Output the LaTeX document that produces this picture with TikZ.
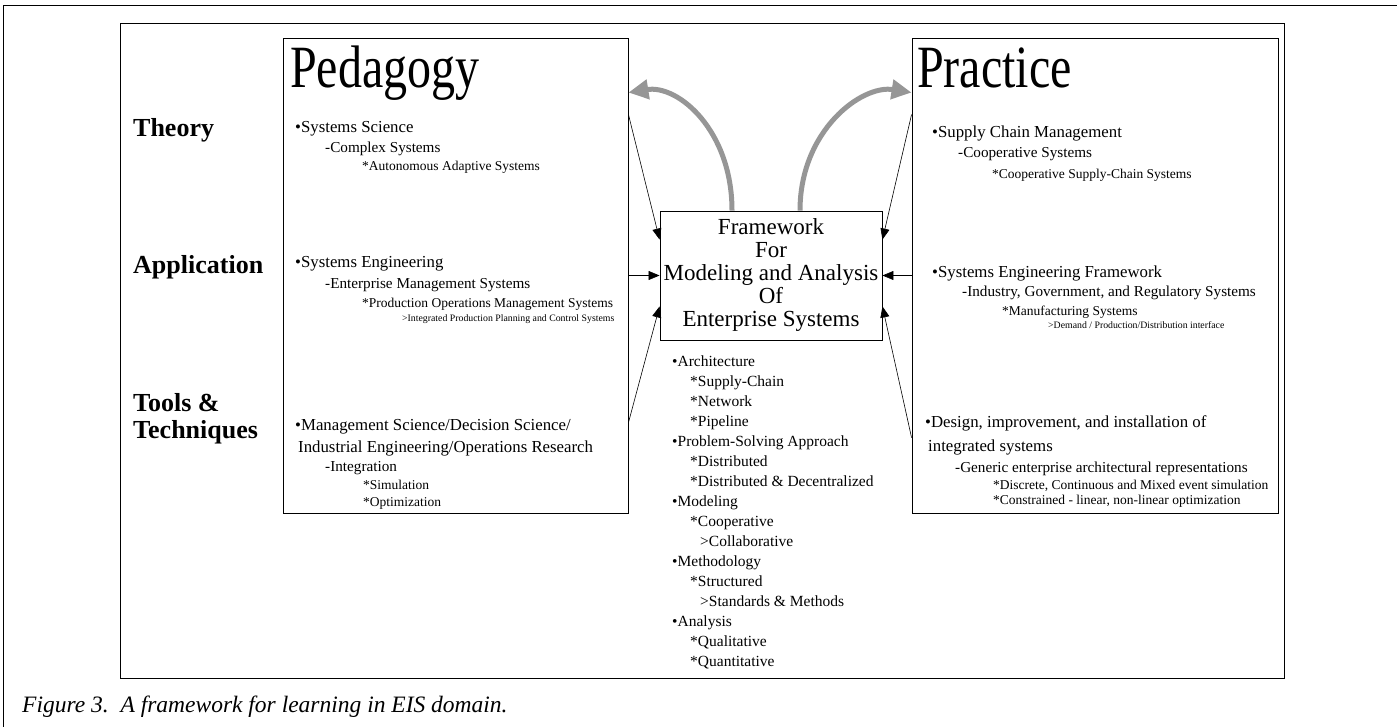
\documentclass[tikz,border=0pt]{standalone}
\usepackage{fontspec}
\setmainfont{Liberation Serif}
\usetikzlibrary{arrows.meta, positioning, calc}
\definecolor{arcGray}{RGB}{150,150,150}

\begin{document}
\begin{tikzpicture}[
    x=1pt, y=-1pt,
    box/.style={rectangle, draw=black, line width=0.9pt, inner sep=0pt},
    heading/.style={anchor=base west, inner sep=0pt, font=\fontsize{60}{60}\selectfont},
    rowlabel/.style={anchor=base west, inner sep=0pt, font=\bfseries\fontsize{26}{26}\selectfont},
    lvlA/.style={anchor=base west, inner sep=0pt, font=\fontsize{16.8}{16.8}\selectfont},
    lvlB/.style={anchor=base west, inner sep=0pt, font=\fontsize{15.2}{15.2}\selectfont},
    lvlC/.style={anchor=base west, inner sep=0pt, font=\fontsize{13.5}{13.5}\selectfont},
    lvlD/.style={anchor=base west, inner sep=0pt, font=\fontsize{9.8}{9.8}\selectfont},
    arrow/.style={-{Triangle[length=11pt, width=9pt]}, line width=0.6pt},
    grayarrow/.style={-{Triangle[length=20pt, width=19pt]}, line width=5pt, draw=arcGray}
]
\useasboundingbox (0,0) rectangle (1397,727);

% Frames
\draw[line width=1pt] (3,727) -- (3,6) -- (1397,6);
\draw[line width=1pt] (120,24) rectangle (1284,678);

% Main boxes
\node[box, minimum width=345pt, minimum height=475pt] (ped) at (455.5,275.5) {};
\node[box, minimum width=366pt, minimum height=475pt] (prac) at (1095,275.5) {};
\node[box, minimum width=222pt, minimum height=129pt, align=center,
      font=\fontsize{23}{23}\selectfont] (fw) at (771,275.5)
      {Framework\\For\\Modeling and Analysis\\Of\\Enterprise Systems};

% Headings
\node[heading] (pedTitle) at (290,88) {\scalebox{0.8}[1]{Pedagogy}};
\node[heading] (pracTitle) at (917,88) {\scalebox{0.8}[1]{Practice}};

% Row labels
\node[rowlabel] (theory) at (133,137) {Theory};
\node[rowlabel] (application) at (133,274) {Application};
\node[rowlabel] (tools) at (133,411) {Tools \&};
\node[rowlabel] (techniques) at (133,438) {Techniques};

% Pedagogy entries
\node[lvlA] (ped1) at (295,133) {•Systems Science};
\node[lvlB] (ped2) at (325,153) {-Complex Systems};
\node[lvlC] (ped3) at (362,171) {*Autonomous Adaptive Systems};
\node[lvlA] (ped4) at (295,268) {•Systems Engineering};
\node[lvlB] (ped5) at (325,288) {-Enterprise Management Systems};
\node[lvlC] (ped6) at (362,307) {*Production Operations Management Systems};
\node[lvlD] (ped7) at (402,321) {>Integrated Production Planning and Control Systems};
\node[lvlA] (ped8) at (295,430) {•Management Science/Decision Science/};
\node[lvlA] (ped9) at (298,452) {Industrial Engineering/Operations Research};
\node[lvlB] (ped10) at (325,471) {-Integration};
\node[lvlC] (ped11) at (363,489) {*Simulation};
\node[lvlC] (ped12) at (363,506) {*Optimization};

% Practice entries
\node[lvlA] (prac1) at (932,138) {•Supply Chain Management};
\node[lvlB] (prac2) at (958,158) {-Cooperative Systems};
\node[lvlC] (prac3) at (992,179) {*Cooperative Supply-Chain Systems};
\node[lvlA] (prac4) at (932,278) {•Systems Engineering Framework};
\node[lvlB] (prac5) at (962,297) {-Industry, Government, and Regulatory Systems};
\node[lvlC] (prac6) at (1002,316) {*Manufacturing Systems};
\node[lvlD] (prac7) at (1048,328) {>Demand / Production/Distribution interface};
\node[lvlA] (prac8) at (925,427) {•Design, improvement, and installation of};
\node[lvlA] (prac9) at (928,451) {integrated systems};
\node[lvlB] (prac10) at (955,472) {-Generic enterprise architectural representations};
\node[lvlC] (prac11) at (993,489) {*Discrete, Continuous and Mixed event simulation};
\node[lvlC] (prac12) at (993,504) {*Constrained - linear, non-linear optimization};

% Framework contents
\node[anchor=north west, inner sep=0pt, align=left, font=\fontsize{15.5}{20}\selectfont]
      (contents) at (672,356)
      {•Architecture\\
       \hspace*{18pt}*Supply-Chain\\
       \hspace*{18pt}*Network\\
       \hspace*{18pt}*Pipeline\\
       •Problem-Solving Approach\\
       \hspace*{18pt}*Distributed\\
       \hspace*{18pt}*Distributed \& Decentralized\\
       •Modeling\\
       \hspace*{18pt}*Cooperative\\
       \hspace*{28pt}>Collaborative\\
       •Methodology\\
       \hspace*{18pt}*Structured\\
       \hspace*{28pt}>Standards \& Methods\\
       •Analysis\\
       \hspace*{18pt}*Qualitative\\
       \hspace*{18pt}*Quantitative};

% Arrows into the framework
\draw[arrow] ([yshift=-77pt]ped.north east) -- ([yshift=-29pt]fw.north west);
\draw[arrow] (ped.east) -- (fw.west);
\draw[arrow] ([yshift=-385pt]ped.north east) -- ([yshift=34pt]fw.south west);
\draw[arrow] ([yshift=-77pt]prac.north west) -- ([yshift=-29pt]fw.north east);
\draw[arrow] (prac.west) -- (fw.east);
\draw[arrow] ([yshift=-400pt]prac.north west) -- ([yshift=34pt]fw.south east);

% Feedback arcs
\draw[grayarrow] ([xshift=-39pt]fw.north) .. controls +(0,-80) and +(50,-8) .. ([yshift=-55pt]ped.north east);
\draw[grayarrow] ([xshift=29pt]fw.north) .. controls +(0,-80) and +(-50,-8) .. ([yshift=-55pt]prac.north west);

% Caption
\node[anchor=base west, inner sep=0pt, font=\itshape\fontsize{23.5}{23.5}\selectfont]
      (caption) at (22,712) {Figure 3.\ \ A framework for learning in EIS domain.};

\end{tikzpicture}
\end{document}
